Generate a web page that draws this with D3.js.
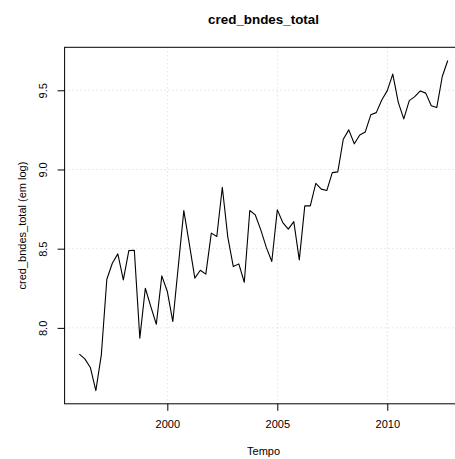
<!DOCTYPE html>
<html>
<head>
<meta charset="utf-8">
<script src="https://cdn.jsdelivr.net/npm/d3@7"></script>
<style>
  html, body { margin: 0; padding: 0; background: #ffffff; }
  svg { display: block; font-family: "Liberation Sans", Arial, Helvetica, sans-serif; }
</style>
</head>
<body>
<svg id="chart" width="455" height="459"></svg>
<script>
// ---- data (quarterly series, log of cred_bndes_total) ----
const startYear = 1996;
const frequency = 4;
const values = [
  7.834, 7.804, 7.750, 7.604, 7.830, 8.307, 8.408, 8.467,
  8.303, 8.488, 8.490, 7.935, 8.250, 8.134, 8.023, 8.328,
  8.230, 8.040, 8.390, 8.740, 8.530, 8.314, 8.364, 8.339,
  8.598, 8.577, 8.888, 8.573, 8.387, 8.404, 8.288, 8.741,
  8.713, 8.619, 8.508, 8.419, 8.745, 8.665, 8.623, 8.671,
  8.429, 8.770, 8.770, 8.913, 8.876, 8.867, 8.980, 8.985,
  9.191, 9.250, 9.162, 9.218, 9.237, 9.345, 9.359, 9.439,
  9.498, 9.602, 9.424, 9.319, 9.435, 9.460, 9.496, 9.482,
  9.402, 9.391, 9.587, 9.688
];
const xTicks = [2000, 2005, 2010];
const yTicks = [8.0, 8.5, 9.0, 9.5];
const yTickLabels = ["8.0", "8.5", "9.0", "9.5"];
const titleText = "cred_bndes_total";
const xLabel = "Tempo";
const yLabel = "cred_bndes_total (em log)";

// ---- layout ----
const plot = { left: 64.6, right: 462.5, top: 47.3, bottom: 403.8 };
const svg = d3.select("#chart");

const data = values.map((v, i) => ({ t: startYear + i / frequency, v: v }));

// R-style 4% range extension
function extend(ext) {
  const pad = (ext[1] - ext[0]) * 0.04;
  return [ext[0] - pad, ext[1] + pad];
}
const x = d3.scaleLinear().domain(extend(d3.extent(data, d => d.t))).range([plot.left, plot.right]);
const y = d3.scaleLinear().domain(extend(d3.extent(data, d => d.v))).range([plot.bottom, plot.top]);

// ---- grid (dotted light gray) ----
const grid = svg.append("g").attr("class", "grid")
  .attr("stroke", "#d3d3d3").attr("stroke-width", 1).attr("stroke-dasharray", "1,3").attr("fill", "none");
grid.selectAll("line.gx").data(xTicks).join("line").attr("class", "gx")
  .attr("x1", d => x(d)).attr("x2", d => x(d)).attr("y1", plot.top).attr("y2", plot.bottom);
grid.selectAll("line.gy").data(yTicks).join("line").attr("class", "gy")
  .attr("x1", plot.left).attr("x2", plot.right).attr("y1", d => y(d)).attr("y2", d => y(d));

// ---- series line ----
const line = d3.line().x(d => x(d.t)).y(d => y(d.v));
svg.append("path").datum(data)
  .attr("d", line).attr("fill", "none").attr("stroke", "#000").attr("stroke-width", 1.1)
  .attr("stroke-linejoin", "round");

// ---- axes ----
const xAxis = svg.append("g").attr("transform", `translate(0,${plot.bottom})`)
  .call(d3.axisBottom(x).tickValues(xTicks).tickFormat(d3.format("d")).tickSize(7).tickPadding(4));
xAxis.select(".domain").remove();
xAxis.selectAll("line").attr("stroke", "#000");
xAxis.selectAll("text").attr("fill", "#000").attr("font-size", 11)
  .attr("y", 24.5).attr("dy", 0)
  .style("font-family", "'Liberation Sans', Arial, sans-serif");

const yAxis = svg.append("g").attr("transform", `translate(${plot.left},0)`)
  .call(d3.axisLeft(y).tickValues(yTicks).tickFormat((d, i) => yTickLabels[i]).tickSize(7));
yAxis.select(".domain").remove();
yAxis.selectAll("line").attr("stroke", "#000");
yAxis.selectAll("text").attr("fill", "#000").attr("font-size", 11)
  .attr("x", 0).attr("dy", 0).attr("text-anchor", "middle")
  .attr("transform", "translate(-18,0) rotate(-90)")
  .style("font-family", "'Liberation Sans', Arial, sans-serif");

// ---- box ----
svg.append("rect")
  .attr("x", plot.left).attr("y", plot.top)
  .attr("width", plot.right - plot.left).attr("height", plot.bottom - plot.top)
  .attr("fill", "none").attr("stroke", "#000").attr("stroke-width", 1);

// ---- titles ----
const cx = (plot.left + plot.right) / 2;
const cy = (plot.top + plot.bottom) / 2;
svg.append("text").attr("x", cx).attr("y", 24).attr("text-anchor", "middle")
  .attr("font-size", 13.4).attr("font-weight", "bold").attr("fill", "#000").text(titleText);
svg.append("text").attr("x", cx).attr("y", 454.5).attr("text-anchor", "middle")
  .attr("font-size", 11).attr("fill", "#000").text(xLabel);
svg.append("text").attr("transform", `translate(26,${cy}) rotate(-90)`).attr("text-anchor", "middle")
  .attr("font-size", 11).attr("fill", "#000").text(yLabel);
</script>
</body>
</html>
